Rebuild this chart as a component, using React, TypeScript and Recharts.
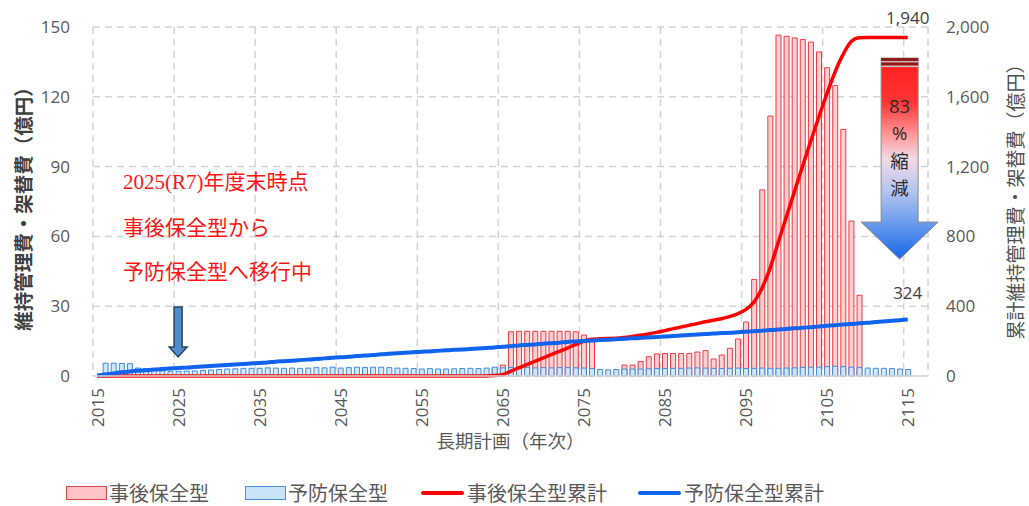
import React from 'react';
import {
  ComposedChart, Bar, Line, XAxis, YAxis, CartesianGrid, ReferenceDot, Legend, Label,
} from 'recharts';

// ---- categories ----
const years: number[] = [];
for (let y = 2015; y <= 2115; y++) years.push(y);
const xTicks = [2015, 2025, 2035, 2045, 2055, 2065, 2075, 2085, 2095, 2105, 2115];
const gridTicks = [2014.5, 2024.5, 2034.5, 2044.5, 2054.5, 2064.5, 2074.5, 2084.5, 2094.5, 2104.5, 2114.5];
const leftTicks = [0, 30, 60, 90, 120, 150];
const rightTicks = [0, 400, 800, 1200, 1600, 2000];

// ---- 事後保全型 (annual, 億円) 2015–2115 ----
const repairBars = [
  0, 0, 0, 0, 0, 0, 0, 0, 0, 0, // 2015-2024
  0, 0, 0, 0, 0, 0, 0, 0, 0, 0, // 2025-2034
  0, 0, 0, 0, 0, 0, 0, 0, 0, 0, // 2035-2044
  0, 0, 0, 0, 0, 0, 0, 0, 0, 0, // 2045-2054
  0, 0, 0, 0, 0, 0, 0, 0, 0, 3.4, // 2055-2064
  4.7, 19, 19.2, 19.2, 19.2, 19.2, 19.2, 19.2, 19.2, 19, // 2065-2074
  17.6, 15.2, 0, 0, 0, 4.7, 4.7, 6.2, 8.3, 9.5, // 2075-2084
  9.7, 9.7, 9.7, 9.7, 10.3, 10.9, 7.3, 9.0, 11.9, 15.9, // 2085-2094
  23.2, 41.5, 80, 111.7, 146.5, 146, 145.3, 144.6, 143.5, 139.3, // 2095-2104
  132.5, 124.8, 106, 66.6, 34.7, 0, 0, 0, 0, 0, // 2105-2114
  0, // 2115
];

// ---- 予防保全型 (annual, 億円) ----
const preventBars = [
  0, 5.5, 5.5, 5.4, 5.3, 3.4, 3.2, 3.0, 2.2, 2.0, // 2015-2024
  2.0, 2.1, 2.2, 2.4, 2.6, 2.8, 3.0, 3.1, 3.3, 3.3, // 2025-2034
  3.3, 3.5, 3.4, 3.3, 3.4, 3.3, 3.4, 3.6, 3.5, 3.8, // 2035-2044
  3.4, 3.6, 3.8, 3.7, 3.8, 3.8, 3.6, 3.4, 3.3, 3.2, // 2045-2054
  3.0, 3.2, 3.0, 3.0, 3.1, 3.2, 3.3, 3.2, 3.4, 3.8, // 2055-2064
  3.5, 3.7, 3.5, 3.7, 3.5, 3.6, 3.5, 3.6, 3.6, 3.5, // 2065-2074
  3.4, 3.2, 2.8, 2.6, 2.8, 3.0, 3.0, 3.0, 3.1, 3.2, // 2075-2084
  3.2, 3.3, 3.3, 3.4, 3.5, 3.4, 3.3, 3.2, 3.3, 3.4, // 2085-2094
  3.2, 3.3, 3.4, 3.3, 3.3, 3.4, 3.5, 3.7, 3.8, 3.8, // 2095-2104
  4.0, 4.2, 4.0, 3.8, 3.6, 3.4, 3.3, 3.3, 3.2, 3.0, // 2105-2114
  2.8, // 2115
];

// ---- 事後保全型累計 (億円) ----
const repairCum = [
  0, 0, 0, 0, 0, 0, 0, 0, 0, 0, // 2015-2024
  0, 0, 0, 0, 0, 0, 0, 0, 0, 0, // 2025-2034
  0, 0, 0, 0, 0, 0, 0, 0, 0, 0, // 2035-2044
  0, 0, 0, 0, 0, 0, 0, 0, 0, 0, // 2045-2054
  0, 0, 0, 0, 0, 0, 0, 0, 0, 3, // 2055-2064
  8, 27, 46, 65, 84, 103, 122, 141, 160, 180, // 2065-2074
  198, 210, 213, 215, 217, 221, 226, 233, 241, 250, // 2075-2084
  260, 270, 280, 290, 300, 311, 319, 328, 340, 356, // 2085-2094
  380, 422, 502, 615, 762, 908, 1053, 1198, 1341, 1480, // 2095-2104
  1613, 1738, 1840, 1915, 1938, 1940, 1940, 1940, 1940, 1940, // 2105-2114
  1940, // 2115
];

// ---- 予防保全型累計 (億円) ----
const preventCum = [
  3, 9, 15, 21, 26, 30, 33, 37, 40, 43, // 2015-2024
  46, 48, 51, 54, 57, 60, 63, 66, 69, 72, // 2025-2034
  75, 78, 82, 85, 88, 91, 94, 97, 101, 104, // 2035-2044
  107, 110, 114, 117, 120, 124, 127, 130, 133, 136, // 2045-2054
  139, 141, 144, 147, 150, 152, 155, 158, 161, 164, // 2055-2064
  168, 171, 175, 178, 181, 185, 188, 191, 195, 198, // 2065-2074
  201, 204, 206, 208, 211, 213, 216, 218, 221, 224, // 2075-2084
  226, 229, 232, 235, 238, 240, 243, 246, 248, 251, // 2085-2094
  254, 257, 260, 263, 266, 270, 273, 276, 280, 284, // 2095-2104
  288, 291, 295, 298, 302, 305, 309, 312, 316, 320, // 2105-2114
  324, // 2115
];

const data = years.map((year, i) => ({
  year,
  repair: repairBars[i],
  prevent: preventBars[i],
  repairCum: repairCum[i],
  preventCum: preventCum[i],
}));

const TICK_FONT = '"Open Sans", "Liberation Sans", sans-serif';
const JP_FONT = '"Noto Sans CJK JP", "Noto Sans", sans-serif';
const RED = '#ff0000';
const BLUE = '#0f63ec';

const XTick = (p: any) => {
  const { x, y, payload } = p;
  return (
    <text x={x} y={y} transform={`rotate(-90 ${x} ${y})`} textAnchor="end"
      dominantBaseline="central" fill="#595959" fontSize={17} fontFamily={TICK_FONT}>
      {payload.value}
    </text>
  );
};

const XTitle = (p: any) => {
  const vb = p.viewBox;
  const x = vb.x + vb.width / 2;
  const y = vb.y + 64;
  return (
    <text x={x} y={y} textAnchor="middle" dominantBaseline="central" fill="#595959"
      fontSize={18.5} fontFamily={JP_FONT}>長期計画（年次）</text>
  );
};

const LeftTitle = (p: any) => {
  const vb = p.viewBox;
  const x = vb.x + 9;
  const y = vb.y + vb.height / 2 + 2.5;
  return (
    <text x={x} y={y} transform={`rotate(-90 ${x} ${y})`} textAnchor="middle"
      dominantBaseline="central" fill="#404040" fontSize={19.5} fontWeight="bold"
      fontFamily={JP_FONT}>維持管理費・架替費（億円）</text>
  );
};

const RightTitle = (p: any) => {
  const vb = p.viewBox;
  const x = vb.x + 86;
  const y = vb.y + vb.height / 2 - 4.5;
  return (
    <text x={x} y={y} transform={`rotate(-90 ${x} ${y})`} textAnchor="middle"
      dominantBaseline="central" fill="#505050" fontSize={19}
      fontFamily={JP_FONT}>累計維持管理費・架替費（億円）</text>
  );
};

const endLabel = (dy: number) => (p: any) => {
  if (p.index !== years.length - 1) return <g />;
  return (
    <text x={p.x} y={p.y - dy} textAnchor="middle" dominantBaseline="central"
      fill="#404040" fontSize={17} fontFamily={TICK_FONT}>
      {Number(p.value).toLocaleString('en-US')}
    </text>
  );
};

const SmallArrow = (p: any) => {
  const { cx, cy } = p;
  const pts = [
    [cx - 4, cy - 50], [cx + 4, cy - 50], [cx + 4, cy - 10], [cx + 9, cy - 10],
    [cx, cy], [cx - 9, cy - 10], [cx - 4, cy - 10],
  ].map((q) => q.join(',')).join(' ');
  return <polygon points={pts} fill="#4f8dcc" stroke="#2b4560" strokeWidth={1.5} />;
};

const BigArrow = (p: any) => {
  const { cx, cy } = p;
  const top = cy - 201;
  const neck = cy - 37;
  const pts = [
    [cx - 18.5, top], [cx + 18.5, top], [cx + 18.5, neck], [cx + 38.5, neck],
    [cx, cy], [cx - 38.5, neck], [cx - 18.5, neck],
  ].map((q) => q.join(',')).join(' ');
  const t = { textAnchor: 'middle' as const, dominantBaseline: 'central' as const, fill: '#2a2a2a', fontSize: 18.5 };
  return (
    <g>
      <defs>
        <linearGradient id="bigArrowGrad" x1="0" y1="0" x2="0" y2="1">
          <stop offset="0" stopColor="#ff1e1e" />
          <stop offset="0.22" stopColor="#ff3535" />
          <stop offset="0.39" stopColor="#ff9c9c" />
          <stop offset="0.5" stopColor="#f1d9e6" />
          <stop offset="0.66" stopColor="#b6c4ef" />
          <stop offset="0.82" stopColor="#6a9cec" />
          <stop offset="1" stopColor="#1766e6" />
        </linearGradient>
      </defs>
      <polygon points={pts} fill="url(#bigArrowGrad)" stroke="#8a8a8a" strokeWidth={1} />
      <rect x={cx - 18.5} y={top} width={37} height={3} fill="#8e1b1b" />
      <rect x={cx - 18.5} y={top + 3} width={37} height={1.5} fill="#c9c9c9" />
      <rect x={cx - 18.5} y={top + 4.5} width={37} height={3} fill="#8e1b1b" />
      <rect x={cx - 18.5} y={top + 7.5} width={37} height={1.5} fill="#c9c9c9" />
      <text x={cx} y={cy - 154} {...t} fontFamily={TICK_FONT}>83</text>
      <text x={cx} y={cy - 127} {...t} fontFamily={TICK_FONT}>%</text>
      <text x={cx} y={cy - 99} {...t} fontFamily={JP_FONT}>縮</text>
      <text x={cx} y={cy - 72} {...t} fontFamily={JP_FONT}>減</text>
    </g>
  );
};

const legendItems = [
  { name: '事後保全型', kind: 'bar', fill: '#ffc4c8', stroke: '#e0474c', gap: 36 },
  { name: '予防保全型', kind: 'bar', fill: '#cbe3f8', stroke: '#4a90d9', gap: 33 },
  { name: '事後保全型累計', kind: 'line', fill: RED, stroke: RED, gap: 31 },
  { name: '予防保全型累計', kind: 'line', fill: BLUE, stroke: BLUE, gap: 0 },
];

const renderLegend = () => (
  <div style={{ display: 'flex', alignItems: 'center', height: 20, paddingLeft: 66 }}>
    {legendItems.map((it) => (
      <div key={it.name} style={{ display: 'flex', alignItems: 'center', marginRight: it.gap }}>
        {it.kind === 'bar' ? (
          <div style={{ width: 41, height: 14, background: it.fill, border: `1.5px solid ${it.stroke}`, boxSizing: 'border-box', marginRight: 2 }} />
        ) : (
          <div style={{ width: 43, height: 4, background: it.fill, borderRadius: 2, marginRight: 3 }} />
        )}
        <span style={{ fontFamily: JP_FONT, fontSize: 20, color: '#595959', lineHeight: '20px', whiteSpace: 'nowrap' }}>{it.name}</span>
      </div>
    ))}
  </div>
);

const annStyle: React.CSSProperties = {
  position: 'absolute',
  left: 123,
  color: '#ff1414',
  fontSize: 21,
  fontFamily: '"Liberation Serif", "DejaVu Serif", "Noto Sans CJK JP", serif',
  whiteSpace: 'nowrap',
  lineHeight: '24px',
};

export default function App() {
  return (
    <div style={{ position: 'absolute', left: 0, top: 0, width: 1029, height: 506, background: '#fff' }}>
      <ComposedChart
        width={1029}
        height={506}
        data={data}
        margin={{ top: 27, right: 11, bottom: 80, left: 13 }}
        barSize={5}
        barGap={-5}
      >
        <CartesianGrid xAxisId="grid" yAxisId="left" stroke="#d4d4d4" strokeDasharray="7 5" strokeWidth={1.5} />
        <XAxis xAxisId="grid" type="number" dataKey="year" domain={[2014.5, 2117.5]} ticks={gridTicks} hide allowDataOverflow />
        <XAxis
          type="number"
          dataKey="year"
          domain={[2014.5, 2117.5]}
          ticks={xTicks}
          interval={0}
          height={50}
          tick={<XTick />}
          tickSize={0}
          tickMargin={12}
          tickLine={false}
          axisLine={{ stroke: '#d9d9d9', strokeWidth: 1.5 }}
          allowDataOverflow
        >
          <Label content={<XTitle />} />
        </XAxis>
        <YAxis
          yAxisId="left"
          width={80}
          domain={[0, 150]}
          ticks={leftTicks}
          interval={0}
          tickSize={0}
          tickMargin={23}
          tickLine={false}
          axisLine={false}
          tick={{ fill: '#595959', fontSize: 17, fontFamily: TICK_FONT }}
        >
          <Label content={<LeftTitle />} />
        </YAxis>
        <YAxis
          yAxisId="right"
          orientation="right"
          width={90}
          domain={[0, 2000]}
          ticks={rightTicks}
          interval={0}
          tickSize={0}
          tickMargin={18}
          tickLine={false}
          axisLine={false}
          tickFormatter={(v: number) => v.toLocaleString('en-US')}
          tick={{ fill: '#595959', fontSize: 17, fontFamily: TICK_FONT, textAnchor: 'start' }}
        >
          <Label content={<RightTitle />} />
        </YAxis>
        <Bar yAxisId="left" dataKey="repair" name="事後保全型" fill="#ffcfd2" stroke="#ec3a40" strokeWidth={1} isAnimationActive={false} />
        <Bar yAxisId="left" dataKey="prevent" name="予防保全型" fill="#cfe6fb" stroke="#3f8ae0" strokeWidth={1} isAnimationActive={false} />
        <Line yAxisId="right" type="monotone" dataKey="repairCum" name="事後保全型累計" stroke={RED} strokeWidth={3.5} dot={false} isAnimationActive={false} label={endLabel(20)} />
        <Line yAxisId="right" type="monotone" dataKey="preventCum" name="予防保全型累計" stroke={BLUE} strokeWidth={4} dot={false} isAnimationActive={false} label={endLabel(27)} />
        <ReferenceDot yAxisId="left" x={2025} y={8.2} shape={SmallArrow} />
        <ReferenceDot yAxisId="right" x={2114} y={670} shape={BigArrow} />
        <Legend
          content={renderLegend}
          wrapperStyle={{ position: 'absolute', left: 0, top: 483, width: 1029, height: 0, overflow: 'visible' }}
        />
      </ComposedChart>
      <div style={{ ...annStyle, top: 170 }}>2025(R7)年度末時点</div>
      <div style={{ ...annStyle, top: 216 }}>事後保全型から</div>
      <div style={{ ...annStyle, top: 260 }}>予防保全型へ移行中</div>
    </div>
  );
}
